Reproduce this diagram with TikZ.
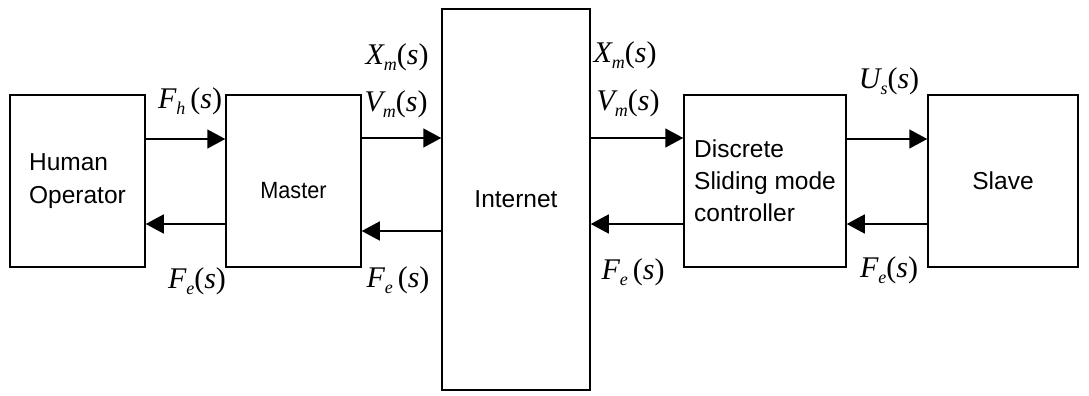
\documentclass[tikz,border=0pt]{standalone}
\usepackage{fontspec}
\newfontfamily\arial{Liberation Sans}
\newfontfamily\tms{Liberation Serif}
\usetikzlibrary{arrows.meta}
\newcommand{\sigl}[3]{{\tms\fontsize{30}{32}\selectfont\itshape #1\raisebox{-6pt}{\fontsize{18}{18}\selectfont #2}#3{\upshape(}s{\upshape)}}}
\begin{document}
\begin{tikzpicture}[x=1pt,y=-1pt,
  blk/.style={draw,line width=1.5pt,inner sep=0pt,font=\arial\fontsize{24.5}{33}\selectfont,align=left},
  arr/.style={line width=1.5pt,-{Triangle[length=18pt,width=19pt]}},
  lbl/.style={inner sep=0pt}]
\useasboundingbox (0,0) rectangle (1089,396);
\node[blk,minimum width=135pt,minimum height=172pt] (ho) at (77.5,181) {Human\\Operator};
\node[blk,minimum width=135pt,minimum height=172pt,font=\arial\fontsize{23.5}{26}\selectfont,text height=36pt,xshift=-6pt,inner xsep=0pt] (ma) at (299.5,181) {\scalebox{0.92}[1]{Master}};
\node[blk,minimum width=148pt,minimum height=381pt] (in) at (516,199.5) {Internet};
\node[blk,minimum width=162pt,minimum height=172pt,font=\arial\fontsize{24.5}{32}\selectfont] (ds) at (765,181) {Discrete\\Sliding mode\\controller};
\node[blk,minimum width=150pt,minimum height=172pt] (sl) at (1003,181) {Slave};
% arrows
\draw[arr] (ho.east |- 0,139) -- (ma.west |- 0,139);
\draw[arr] (ma.west |- 0,224) -- (ho.east |- 0,224);
\draw[arr] (ma.east |- 0,138) -- (in.west |- 0,138);
\draw[arr] (in.west |- 0,231) -- (ma.east |- 0,231);
\draw[arr] (in.east |- 0,138) -- (ds.west |- 0,138);
\draw[arr] (ds.west |- 0,224) -- (in.east |- 0,224);
\draw[arr] (ds.east |- 0,139) -- (sl.west |- 0,139);
\draw[arr] (sl.west |- 0,224) -- (ds.east |- 0,224);
% labels
\node[lbl] (l1) at (190,101) {\sigl{F}{h}{\,}};
\node[lbl] (l2) at (197,281) {\sigl{F}{e}{}};
\node[lbl] (l3) at (397,57) {\sigl{X}{m}{}};
\node[lbl] (l4) at (396,104) {\sigl{V}{m}{}};
\node[lbl] (l5) at (398,280) {\sigl{F}{e}{\,}};
\node[lbl] (l6) at (625,55) {\sigl{X}{m}{}};
\node[lbl] (l7) at (628,103) {\sigl{V}{m}{}};
\node[lbl] (l8) at (633,272) {\sigl{F}{e}{\,}};
\node[lbl] (l9) at (889,81) {\sigl{U}{s}{}};
\node[lbl] (l10) at (889,270) {\sigl{F}{e}{}};
\end{tikzpicture}
\end{document}
